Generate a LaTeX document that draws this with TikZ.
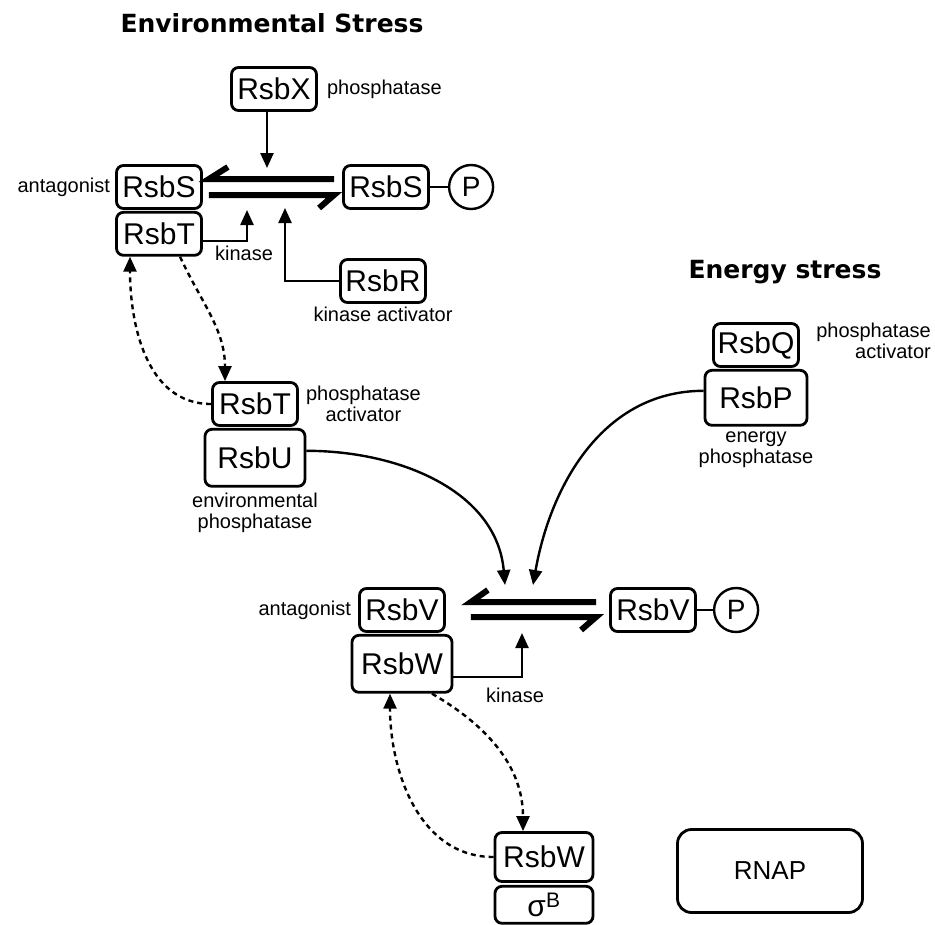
\documentclass[tikz,border=0pt]{standalone}
\usepackage{fontspec}
\setmainfont{Liberation Sans}
\newfontfamily\titlefont{DejaVu Sans}
\usetikzlibrary{arrows.meta,positioning,calc}
\tikzset{
  prot/.style={draw, rounded corners=7pt, line width=2.8pt, minimum width=85pt, minimum height=43pt, inner sep=1pt, font=\fontsize{30}{32}\selectfont},
  bigprot/.style={prot, minimum width=100pt, minimum height=57pt},
  phos/.style={circle, draw, line width=2.4pt, minimum size=44pt, inner sep=0pt, font=\fontsize{28}{30}\selectfont},
  lbl/.style={align=center, inner sep=2pt, font=\fontsize{20}{21}\selectfont},
  stress/.style={font=\titlefont\bfseries\fontsize{25}{28}\selectfont},
  arrow/.style={-{Triangle[length=15pt,width=13pt]}, line width=2.4pt},
  dasharrow/.style={arrow, dash pattern=on 5pt off 4pt},
  eqline/.style={line width=6pt, line join=miter}
}

\begin{document}
\begin{tikzpicture}[x=1pt, y=1pt]
  \fill[white] (0,0) rectangle (935,-924);

  % environmental stress
  \node[stress] (envtitle) at (272,-23) {Environmental Stress};
  \node[prot] (rsbX) at (274,-89) {RsbX};
  \node[lbl, right=7pt of rsbX] (xlbl) {phosphatase};
  \node[prot] (rsbS) at (159,-187) {RsbS};
  \node[prot, below=1pt of rsbS] (rsbT) {RsbT};
  \node[lbl, left=3pt of rsbS] (slbl) {antagonist};
  \node[prot] (rsbSp) at (386,-187) {RsbS};
  \node[phos, right=18pt of rsbSp] (pS) {P};
  \node[prot] (rsbR) at (383,-281) {RsbR};
  \node[lbl, below=1pt of rsbR] (rlbl) {kinase activator};
  \node[lbl] (tlbl) at (244,-253) {kinase};
  \node[prot] (rsbTm) at (255,-404) {RsbT};
  \node[bigprot, below=1pt of rsbTm] (rsbU) {RsbU};
  \node[lbl, right=5pt of rsbTm] (tmlbl) {phosphatase\\activator};
  \node[lbl, below=3pt of rsbU] (ulbl) {environmental\\phosphatase};

  % energy stress
  \node[stress] (entitle) at (785,-272) {Energy stress};
  \node[prot] (rsbQ) at (756,-345) {RsbQ};
  \node[bigprot, minimum width=102pt, minimum height=55pt, below=1pt of rsbQ] (rsbP) {RsbP};
  \node[lbl, align=right, anchor=east] (qlbl) at (933,-341) {phosphatase\\activator};
  \node[lbl, below=3pt of rsbP] (plbl) {energy\\phosphatase};

  % sigma B partner switch
  \node[prot] (rsbV) at (402,-610) {RsbV};
  \node[bigprot, below=1pt of rsbV] (rsbW) {RsbW};
  \node[lbl, left=5pt of rsbV] (vlbl) {antagonist};
  \node[prot] (rsbVp) at (653,-610) {RsbV};
  \node[phos, right=16pt of rsbVp] (pV) {P};
  \node[lbl] (wlbl) at (515,-695) {kinase};
  \node[prot, minimum width=98pt, minimum height=49pt] (rsbWb) at (544,-857) {RsbW};
  \node[prot, minimum width=98pt, minimum height=37pt, below=2pt of rsbWb] (sigB) {σ\textsuperscript{B}};
  \node[prot, rounded corners=14pt, minimum width=185pt, minimum height=83pt, font=\fontsize{26}{28}\selectfont] (rnap) at (770,-871) {RNAP};

  \coordinate (xTip) at (267,-168);
  \coordinate (kTip) at (247,-210);
  \coordinate (aTip) at (285,-208);
  \coordinate (uTip) at (505,-585);
  \coordinate (pTip) at (533,-585);
  \coordinate (kTipB) at (522,-633);

  \draw[eqline] ($(rsbSp.west)+(-8,8)$) -- ($(rsbS.east)+(6,8)$) -- ++(19,12);
  \draw[eqline] ($(rsbS.east)+(6,-8)$) -- ($(rsbSp.west)+(-8,-8)$) -- ++(-15,-13);
  \draw[line width=2.4pt] (rsbSp) -- (pS);
  \draw[arrow] (rsbX.south -| xTip) -- (xTip);
  \draw[arrow] ($(rsbT.east)+(0,-7)$) -| (kTip);
  \draw[arrow] (rsbR.west) -| (aTip);
  \draw[dasharrow] ($(rsbT.south)+(21,0)$) to[out=-65, in=90] ($(rsbTm.north)+(-30,0)$);
  \draw[dasharrow] (rsbTm.west) to[out=180, in=-90] ($(rsbT.south)+(-29,0)$);

  \draw[arrow] ($(rsbU.east)+(0,7)$) to[out=0, in=95] (uTip);
  \draw[arrow] ($(rsbP.west)+(0,7)$) to[out=180, in=80] (pTip);

  \draw[eqline] ($(rsbVp.west)+(-13,8)$) -- ($(rsbV.east)+(25,8)$) -- ++(17,12);
  \draw[eqline] ($(rsbV.east)+(25,-7)$) -- ($(rsbVp.west)+(-13,-7)$) -- ++(-15,-13);
  \draw[line width=2.4pt] (rsbVp) -- (pV);
  \draw[arrow] ($(rsbW.east)+(0,-13)$) -| (kTipB);
  \draw[dasharrow] ($(rsbW.south)+(30,0)$) to[out=-30, in=90] ($(rsbWb.north)+(-21,0)$);
  \draw[dasharrow] (rsbWb.west) to[out=180, in=-90] ($(rsbW.south)+(-12,0)$);
\end{tikzpicture}
\end{document}
